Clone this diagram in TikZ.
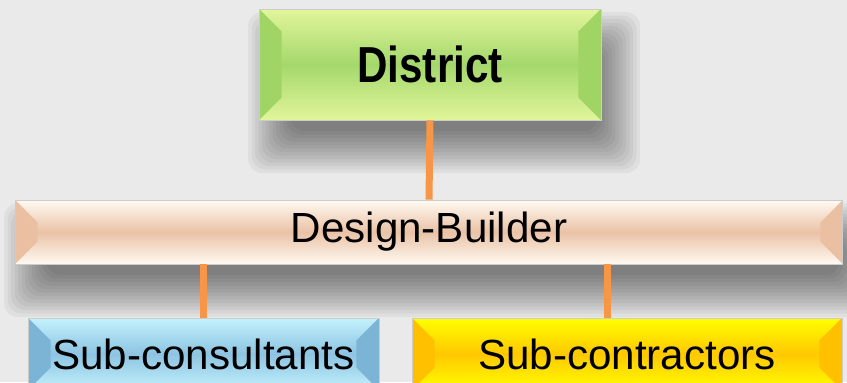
\documentclass[tikz,border=0pt]{standalone}
\usepackage{fontspec}
\setmainfont{Liberation Sans}
\usetikzlibrary{backgrounds}

\definecolor{bggray}{HTML}{EAEAEA}
\definecolor{linkorange}{HTML}{F79646}
\definecolor{greenedge}{HTML}{E2F59A}
\definecolor{greenmid}{HTML}{A4D86C}
\definecolor{greenside}{HTML}{A0D566}
\definecolor{peachedge}{HTML}{FFFAF2}
\definecolor{peachmid}{HTML}{EAC2A6}
\definecolor{peachside}{HTML}{EBC0A2}
\definecolor{blueedge}{HTML}{C4F2FD}
\definecolor{bluemid}{HTML}{8DC4E2}
\definecolor{blueside}{HTML}{7CB4D6}
\definecolor{yellowedge}{HTML}{FFFF00}
\definecolor{yellowmid}{HTML}{FFC800}
\definecolor{yellowside}{HTML}{FFC000}

\newcommand\boxshadow[1]{%
  \foreach \g in {-10,-8,...,14}
    \fill[black, opacity=0.045, rounded corners=8pt]
      ([xshift=8pt-\g pt, yshift=-16pt+\g pt]#1.north west) rectangle
      ([xshift=8pt+\g pt, yshift=-16pt-\g pt]#1.south east);
}

\tikzset{
  orgbox/.style={draw=gray!40, line width=0.5pt, inner sep=0pt,
    font=\fontsize{24}{28}\selectfont},
  bevel/.style n args={3}{top color=#1, bottom color=#1, middle color=#2,
    path picture={
      \path (path picture bounding box.north west) coordinate (tl)
            (path picture bounding box.south west) coordinate (bl)
            (path picture bounding box.north east) coordinate (tr)
            (path picture bounding box.south east) coordinate (br);
      \fill[#3] (bl) -- ([xshift=0.45cm,yshift=0.45cm]bl)
        -- ([xshift=0.45cm,yshift=-0.45cm]tl) -- (tl) -- cycle;
      \fill[#3] (br) -- ([xshift=-0.45cm,yshift=0.45cm]br)
        -- ([xshift=-0.45cm,yshift=-0.45cm]tr) -- (tr) -- cycle;
    }},
  link/.style={draw=linkorange, line width=0.14cm}
}

\begin{document}
\begin{tikzpicture}[x=0.02cm, y=-0.02cm]
 \useasboundingbox (0,0) rectangle (847,382);

 % boxes
 \node[orgbox, bevel={greenedge}{greenmid}{greenside},
   minimum width=6.84cm, minimum height=2.22cm,
   font=\fontsize{24}{28}\selectfont\bfseries] (district) at (430,64.5)
   {\scalebox{1}[1.2]{District}};
 \node[orgbox, bevel={peachedge}{peachmid}{peachside},
   minimum width=16.56cm, minimum height=1.28cm] (db) at (429,232) {Design-Builder};
 \node[orgbox, bevel={blueedge}{bluemid}{blueside},
   minimum width=7.02cm, minimum height=1.44cm] (subcons) at (203.5,354) {Sub-consultants};
 \node[orgbox, bevel={yellowedge}{yellowmid}{yellowside},
   minimum width=8.6cm, minimum height=1.44cm] (subcont) at (627,354) {Sub-contractors};

 % connectors
 \draw[link] (district.south) -- (db.north);
 \draw[link] (subcons.north) -- (subcons.north |- db.south);
 \path (subcont.north) ++(-20,0) coordinate (rc);
 \draw[link] (rc) -- (rc |- db.south);

 % page and soft shadows
 \begin{scope}[on background layer]
  \fill[bggray] (0,0) rectangle (847,382);
  \boxshadow{district}
  \boxshadow{db}
 \end{scope}
\end{tikzpicture}
\end{document}
